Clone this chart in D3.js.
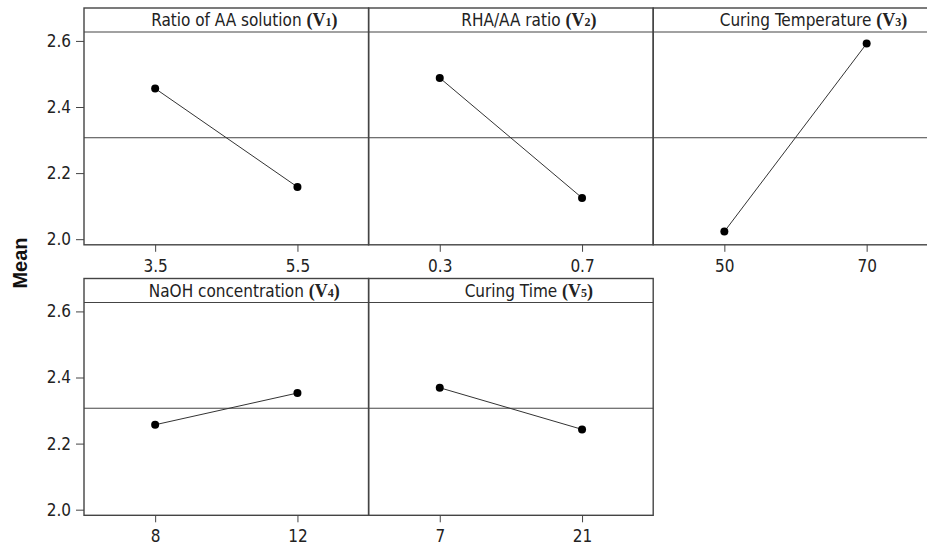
<!DOCTYPE html>
<html>
<head>
<meta charset="utf-8">
<script src="https://cdn.jsdelivr.net/npm/d3@7"></script>
<style>
  body { margin: 0; background: #fff; }
  svg { display: block; }
  .tick text { font-family: "DejaVu Sans Condensed", "DejaVu Sans", sans-serif; font-size: 17px; fill: #222; }
  .tick line { stroke: #444; }
</style>
</head>
<body>
<script>
// main effects plot for means
const factors = ["Ratio of AA solution", "RHA/AA ratio", "Curing Temperature", "NaOH concentration", "Curing Time"];
const symbols = ["1", "2", "3", "4", "5"];
const levels = [["3.5", "5.5"], ["0.3", "0.7"], ["50", "70"], ["8", "12"], ["7", "21"]];
const means = [[2.456, 2.158], [2.488, 2.125], [2.023, 2.592], [2.257, 2.353], [2.369, 2.243]];
const grandMean = 2.307;
const yTicks = [2.0, 2.2, 2.4, 2.6];

function main(){
  let width = 927, height = 547;
  let panelW = 284.6, panelH = 236.8, stripH = 24;
  let left0 = 84;
  let rowTops = [8, 278.5];
  let cols = 3;

  let svg = d3.select("body").append("svg").attr("width", width).attr("height", height);

  // y label
  svg.append("text")
    .attr("transform", "translate(27," + 263 + ") rotate(-90)")
    .attr("text-anchor", "middle")
    .style("font-family", "Liberation Sans, Arial, sans-serif")
    .style("font-weight", "bold")
    .style("font-size", "20px")
    .style("fill", "#111")
    .text("Mean");

  factors.forEach((f, i) => {
    let col = i % cols, row = Math.floor(i / cols);
    let px = left0 + col * panelW, py = rowTops[row];

    let g = svg.append("g").attr("transform", "translate(" + px + "," + py + ")");

    let x = d3.scalePoint().domain(levels[i]).range([0, panelW]).padding(0.5);
    let y = d3.scaleLinear().domain([1.983, 2.627]).range([panelH, stripH]);

    // grand mean reference line
    g.append("line")
      .attr("x1", 0).attr("x2", panelW)
      .attr("y1", y(grandMean)).attr("y2", y(grandMean))
      .attr("stroke", "#444").attr("stroke-width", 1);

    // connecting line and points
    let pts = levels[i].map((l, j) => [x(l), y(means[i][j])]);
    g.append("path")
      .attr("d", d3.line()(pts))
      .attr("fill", "none")
      .attr("stroke", "#333")
      .attr("stroke-width", 1);
    g.selectAll("circle.pt").data(pts).enter().append("circle")
      .attr("class", "pt")
      .attr("cx", d => d[0]).attr("cy", d => d[1])
      .attr("r", 4)
      .attr("fill", "#000");

    // strip + frame
    g.append("line")
      .attr("x1", 0).attr("x2", panelW)
      .attr("y1", stripH).attr("y2", stripH)
      .attr("stroke", "#444").attr("stroke-width", 1.2);
    g.append("rect")
      .attr("x", 0).attr("y", 0)
      .attr("width", panelW).attr("height", panelH)
      .attr("fill", "none")
      .attr("stroke", "#444").attr("stroke-width", 1.4);

    // title
    let t = g.append("text")
      .attr("x", panelW / 2 + 18)
      .attr("y", 18)
      .attr("text-anchor", "middle")
      .style("font-family", "DejaVu Sans Condensed, DejaVu Sans, sans-serif")
      .style("font-size", "17px")
      .style("fill", "#222");
    t.append("tspan").text(f + " ");
    let s = t.append("tspan")
      .style("font-family", "Liberation Serif, Times New Roman, serif")
      .style("font-weight", "bold")
      .style("font-size", "18px");
    s.append("tspan").text("(V");
    s.append("tspan").style("font-size", "12px").text(symbols[i]);
    s.append("tspan").text(")");

    // x axis
    let xa = g.append("g")
      .attr("transform", "translate(0," + panelH + ")")
      .call(d3.axisBottom(x).tickSize(7).tickPadding(8).tickSizeOuter(0));
    xa.select(".domain").remove();

    // y axis only on first column
    if (col === 0){
      let ya = g.append("g")
        .call(d3.axisLeft(y).tickValues(yTicks).tickFormat(d3.format(".1f")).tickSize(8).tickPadding(5));
      ya.select(".domain").remove();
    }
  });
}
main();
</script>
</body>
</html>
